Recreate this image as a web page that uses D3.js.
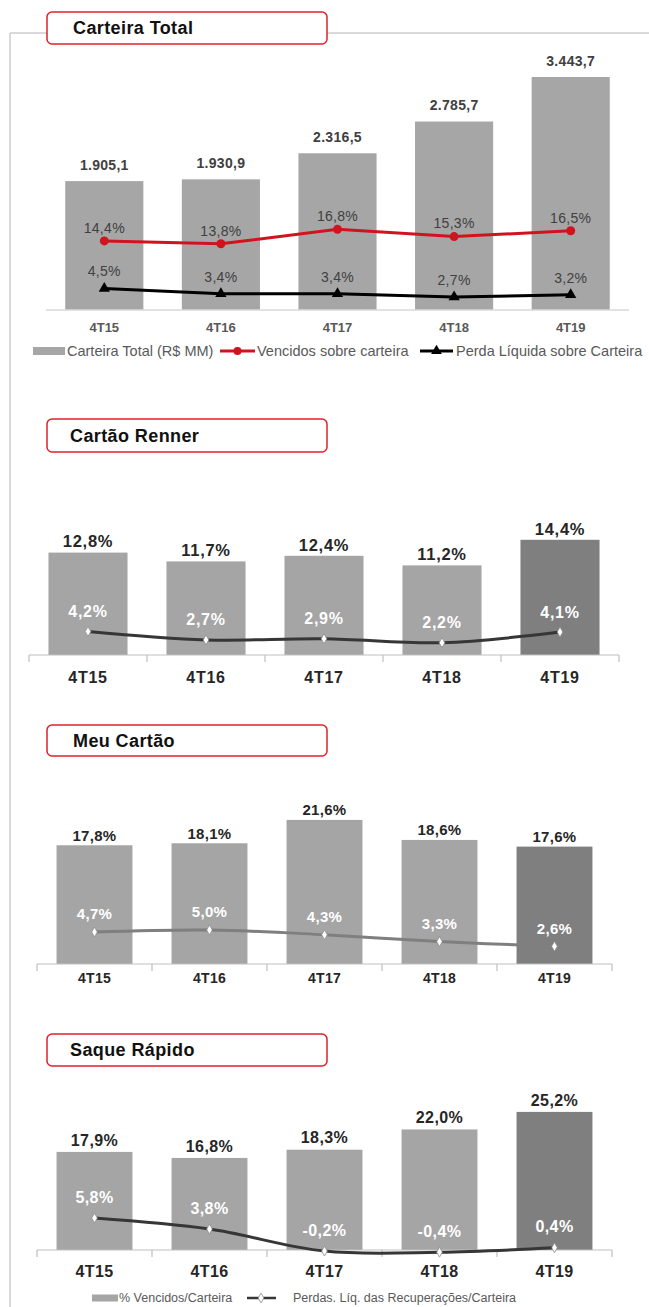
<!DOCTYPE html>
<html>
<head>
<meta charset="utf-8">
<script src="https://cdn.jsdelivr.net/npm/d3@7"></script>
<style>
  body { margin: 0; background: #fff; }
  text { font-family: "Liberation Sans", Arial, sans-serif; }
</style>
</head>
<body>
<script>
const quarters = ['4T15', '4T16', '4T17', '4T18', '4T19'];

// Carteira Total
const carteiraTotal = [1905.1, 1930.9, 2316.5, 2785.7, 3443.7];
const vencidosCarteira = [14.4, 13.8, 16.8, 15.3, 16.5];
const perdaLiquida = [4.5, 3.4, 3.4, 2.7, 3.2];

// Cartão Renner
const rennerVencidos = [12.8, 11.7, 12.4, 11.2, 14.4];
const rennerPerdas = [4.2, 2.7, 2.9, 2.2, 4.1];

// Meu Cartão
const meuVencidos = [17.8, 18.1, 21.6, 18.6, 17.6];
const meuPerdas = [4.7, 5.0, 4.3, 3.3, 2.6];

// Saque Rápido
const saqueVencidos = [17.9, 16.8, 18.3, 22.0, 25.2];
const saquePerdas = [5.8, 3.8, -0.2, -0.4, 0.4];

const legend1 = ['Carteira Total (R$ MM)', 'Vencidos sobre carteira', 'Perda Líquida sobre Carteira'];
const legend2 = ['% Vencidos/Carteira', 'Perdas. Líq. das Recuperações/Carteira'];

const br = d3.formatLocale({decimal: ',', thousands: '.', grouping: [3], currency: ['R$', ''], minus: '-'});
const fmtNum = br.format(',.1f');
const fmtPct = v => br.format('.1f')(v) + '%';

const width = 649, height = 1307;
const svg = d3.select('body').append('svg')
  .attr('width', width)
  .attr('height', height);

// frame
svg.append('line')
  .attr('x1', 10).attr('x2', 10).attr('y1', 33).attr('y2', height)
  .attr('stroke', '#d9d9d9').attr('stroke-width', 2);
svg.append('line')
  .attr('x1', 10).attr('x2', width).attr('y1', 33).attr('y2', 33)
  .attr('stroke', '#d9d9d9').attr('stroke-width', 2);

function titleBox(label, y0, y1, tx) {
  svg.append('rect')
    .attr('x', 47).attr('y', y0)
    .attr('width', 280).attr('height', y1 - y0)
    .attr('rx', 5)
    .attr('fill', '#fff')
    .attr('stroke', '#e0202a')
    .attr('stroke-width', 1.5);
  svg.append('text')
    .attr('x', tx).attr('y', (y0 + y1) / 2)
    .attr('dy', '0.36em')
    .attr('font-size', 18)
    .attr('font-weight', 'bold')
    .attr('letter-spacing', 0.4)
    .attr('fill', '#111')
    .text(label);
}

// ---------- Carteira Total ----------
titleBox('Carteira Total', 12, 44, 73);
{
  const g = svg.append('g');
  const base = 310;
  const x = d3.scaleBand().domain(quarters).range([46, 629])
    .paddingInner(0.33).paddingOuter(0.165);
  const yBar = d3.scaleLinear().domain([0, 4000]).range([base, base - 4000 * 233 / 3443.7]);
  const yLine = d3.scaleLinear().domain([0, 50]).range([base, base - 240]);
  const cx = d => x(d) + x.bandwidth() / 2;

  g.selectAll('rect.bar')
    .data(quarters)
    .enter()
      .append('rect')
        .attr('class', 'bar')
        .attr('x', d => x(d))
        .attr('y', (d, i) => yBar(carteiraTotal[i]))
        .attr('width', x.bandwidth())
        .attr('height', (d, i) => base - yBar(carteiraTotal[i]))
        .attr('fill', '#a6a6a6');

  g.append('line')
    .attr('x1', 46).attr('x2', 629).attr('y1', base).attr('y2', base)
    .attr('stroke', '#d9d9d9').attr('stroke-width', 1.5);

  g.selectAll('text.val')
    .data(quarters)
    .enter()
      .append('text')
        .attr('x', cx)
        .attr('y', (d, i) => yBar(carteiraTotal[i]) - 16)
        .attr('dy', '0.35em')
        .attr('text-anchor', 'middle')
        .attr('font-size', 14)
        .attr('font-weight', 'bold')
        .attr('letter-spacing', 0.3)
        .attr('fill', '#404040')
        .text((d, i) => fmtNum(carteiraTotal[i]));

  const line = d3.line().x(d => cx(d[0])).y(d => yLine(d[1]));

  const red = quarters.map((q, i) => [q, vencidosCarteira[i]]);
  g.append('path').attr('d', line(red))
    .attr('fill', 'none').attr('stroke', '#d0141f').attr('stroke-width', 3);
  g.selectAll('circle.red')
    .data(red)
    .enter()
      .append('circle')
        .attr('cx', d => cx(d[0]))
        .attr('cy', d => yLine(d[1]))
        .attr('r', 4.5)
        .attr('fill', '#d0141f');
  g.selectAll('text.red')
    .data(red)
    .enter()
      .append('text')
        .attr('x', d => cx(d[0]))
        .attr('y', d => yLine(d[1]) - 13)
        .attr('dy', '0.35em')
        .attr('text-anchor', 'middle')
        .attr('font-size', 14)
        .attr('letter-spacing', 0.3)
        .attr('fill', '#404040')
        .text(d => fmtPct(d[1]));

  const blk = quarters.map((q, i) => [q, perdaLiquida[i]]);
  g.append('path').attr('d', line(blk))
    .attr('fill', 'none').attr('stroke', '#000').attr('stroke-width', 3);
  g.selectAll('path.tri')
    .data(blk)
    .enter()
      .append('path')
        .attr('d', d3.symbol(d3.symbolTriangle, 55))
        .attr('transform', d => `translate(${cx(d[0])},${yLine(d[1])})`)
        .attr('fill', '#000');
  g.selectAll('text.blk')
    .data(blk)
    .enter()
      .append('text')
        .attr('x', d => cx(d[0]))
        .attr('y', d => yLine(d[1]) - 17)
        .attr('dy', '0.35em')
        .attr('text-anchor', 'middle')
        .attr('font-size', 14)
        .attr('letter-spacing', 0.3)
        .attr('fill', '#404040')
        .text(d => fmtPct(d[1]));

  g.selectAll('text.cat')
    .data(quarters)
    .enter()
      .append('text')
        .attr('x', cx)
        .attr('y', 327)
        .attr('dy', '0.35em')
        .attr('text-anchor', 'middle')
        .attr('font-size', 13)
        .attr('font-weight', 'bold')
        .attr('fill', '#595959')
        .text(d => d);

  // legend
  const ly = 351;
  const lg = svg.append('g').attr('font-size', 14.5).attr('fill', '#595959');
  lg.append('rect').attr('x', 33).attr('y', ly - 4).attr('width', 32).attr('height', 8).attr('fill', '#a6a6a6');
  lg.append('text').attr('x', 67).attr('y', ly).attr('dy', '0.35em').text(legend1[0]);
  lg.append('line').attr('x1', 220).attr('x2', 255).attr('y1', ly).attr('y2', ly)
    .attr('stroke', '#d0141f').attr('stroke-width', 3);
  lg.append('circle').attr('cx', 237.5).attr('cy', ly).attr('r', 4).attr('fill', '#d0141f');
  lg.append('text').attr('x', 257).attr('y', ly).attr('dy', '0.35em').text(legend1[1]);
  lg.append('line').attr('x1', 420).attr('x2', 453).attr('y1', ly).attr('y2', ly)
    .attr('stroke', '#000').attr('stroke-width', 3);
  lg.append('path').attr('d', d3.symbol(d3.symbolTriangle, 50))
    .attr('transform', `translate(436.5,${ly})`).attr('fill', '#000');
  lg.append('text').attr('x', 456).attr('y', ly).attr('dy', '0.35em').text(legend1[2]);
}

// ---------- bar + smooth line panels ----------
function panel(cfg) {
  titleBox(cfg.title, cfg.box[0], cfg.box[1], cfg.titleX);
  const g = svg.append('g');
  const base = cfg.base;
  const x = d3.scaleBand().domain(quarters).range(cfg.axis)
    .paddingInner(cfg.pad).paddingOuter(cfg.pad / 2);
  const yBar = d3.scaleLinear().domain([0, 10]).range([base, base - 10 * cfg.barPx]);
  const yLine = d3.scaleLinear().domain([0, 10]).range([base, base - 10 * cfg.linePx]);
  const cx = d => x(d) + x.bandwidth() / 2;

  g.selectAll('rect')
    .data(quarters)
    .enter()
      .append('rect')
        .attr('x', d => x(d))
        .attr('y', (d, i) => yBar(cfg.bars[i]))
        .attr('width', x.bandwidth())
        .attr('height', (d, i) => base - yBar(cfg.bars[i]))
        .attr('fill', (d, i) => i === quarters.length - 1 ? '#7f7f7f' : '#a5a5a5');

  // axis with tick marks between categories
  g.append('line')
    .attr('x1', cfg.axis[0]).attr('x2', cfg.axis[1]).attr('y1', base).attr('y2', base)
    .attr('stroke', '#bfbfbf').attr('stroke-width', 1.2);
  g.selectAll('line.tick')
    .data(d3.range(quarters.length + 1))
    .enter()
      .append('line')
        .attr('x1', i => cfg.axis[0] + i * x.step())
        .attr('x2', i => cfg.axis[0] + i * x.step())
        .attr('y1', base).attr('y2', base + 7)
        .attr('stroke', '#bfbfbf').attr('stroke-width', 1.2);

  g.selectAll('text.val')
    .data(quarters)
    .enter()
      .append('text')
        .attr('x', cx)
        .attr('y', (d, i) => yBar(cfg.bars[i]) - cfg.valGap)
        .attr('dy', '0.35em')
        .attr('text-anchor', 'middle')
        .attr('font-size', cfg.valFont)
        .attr('font-weight', 'bold')
        .attr('letter-spacing', cfg.ls)
        .attr('fill', '#262626')
        .text((d, i) => fmtPct(cfg.bars[i]));

  const pts = quarters.map((q, i) => [q, cfg.line[i]]);
  const line = d3.line()
    .x(d => cx(d[0]))
    .y(d => yLine(d[1]))
    .curve(d3.curveCatmullRom.alpha(0.5));
  g.append('path').attr('d', line(pts))
    .attr('fill', 'none')
    .attr('stroke', cfg.lineColor)
    .attr('stroke-width', 3)
    .attr('stroke-linecap', 'round');
  g.selectAll('path.mk')
    .data(pts)
    .enter()
      .append('path')
        .attr('d', d3.symbol(d3.symbolDiamond, 28))
        .attr('transform', d => `translate(${cx(d[0])},${yLine(d[1])})`)
        .attr('fill', '#fff')
        .attr('stroke', '#8c8c8c')
        .attr('stroke-width', 0.8);
  g.selectAll('text.pl')
    .data(pts)
    .enter()
      .append('text')
        .attr('x', d => cx(d[0]))
        .attr('y', d => yLine(d[1]) - cfg.lineGap)
        .attr('dy', '0.35em')
        .attr('text-anchor', 'middle')
        .attr('font-size', cfg.lineFont)
        .attr('font-weight', 'bold')
        .attr('letter-spacing', cfg.ls)
        .attr('fill', '#fff')
        .text(d => fmtPct(d[1]));

  g.selectAll('text.cat')
    .data(quarters)
    .enter()
      .append('text')
        .attr('x', cx)
        .attr('y', cfg.catY)
        .attr('dy', '0.35em')
        .attr('text-anchor', 'middle')
        .attr('font-size', cfg.catFont)
        .attr('font-weight', 'bold')
        .attr('letter-spacing', cfg.ls)
        .attr('fill', '#262626')
        .text(d => d);
}

panel({
  title: 'Cartão Renner', box: [419, 452], titleX: 70,
  bars: rennerVencidos, line: rennerPerdas,
  axis: [29, 619], pad: 0.33, base: 655,
  barPx: 8, linePx: 5.6, lineColor: '#363636',
  valGap: 11, valFont: 16.5, lineGap: 20, lineFont: 16,
  catY: 677, catFont: 16, ls: 0.7
});

panel({
  title: 'Meu Cartão', box: [725, 756], titleX: 73,
  bars: meuVencidos, line: meuPerdas,
  axis: [37, 612], pad: 0.34, base: 964,
  barPx: 6.67, linePx: 6.8, lineColor: '#7f7f7f',
  valGap: 10, valFont: 15, lineGap: 18, lineFont: 15,
  catY: 978, catFont: 14, ls: 0.3
});

panel({
  title: 'Saque Rápido', box: [1034, 1066], titleX: 70,
  bars: saqueVencidos, line: saquePerdas,
  axis: [37, 612], pad: 0.34, base: 1250,
  barPx: 5.48, linePx: 5.5, lineColor: '#363636',
  valGap: 12, valFont: 16, lineGap: 21, lineFont: 16,
  catY: 1271, catFont: 16, ls: 0.4
});

// bottom legend
{
  const ly = 1298;
  const lg = svg.append('g').attr('font-size', 12.5).attr('fill', '#595959');
  lg.append('rect').attr('x', 92).attr('y', ly - 3.5).attr('width', 26).attr('height', 7).attr('fill', '#a5a5a5');
  lg.append('text').attr('x', 119).attr('y', ly).attr('dy', '0.35em').text(legend2[0]);
  lg.append('line').attr('x1', 247).attr('x2', 276).attr('y1', ly).attr('y2', ly)
    .attr('stroke', '#363636').attr('stroke-width', 2.5);
  lg.append('path').attr('d', d3.symbol(d3.symbolDiamond, 28))
    .attr('transform', `translate(261,${ly})`)
    .attr('fill', '#fff').attr('stroke', '#8c8c8c').attr('stroke-width', 0.8);
  lg.append('text').attr('x', 293).attr('y', ly).attr('dy', '0.35em').text(legend2[1]);
}
</script>
</body>
</html>
